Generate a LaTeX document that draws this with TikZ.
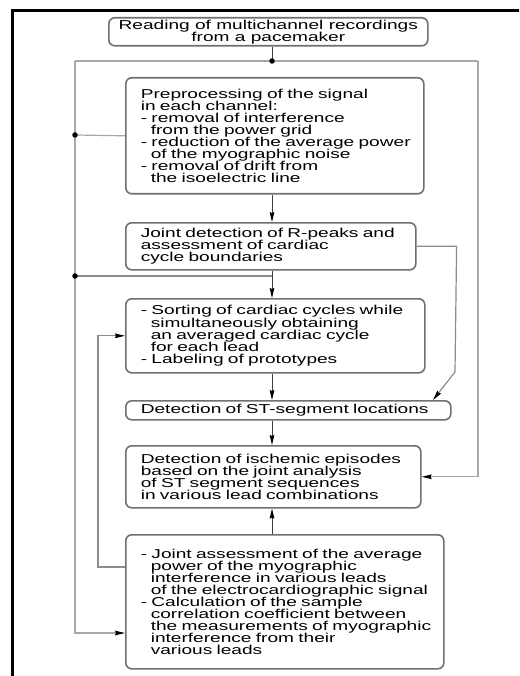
\documentclass[tikz,border=0pt]{standalone}
\usepackage{fontspec}
\newfontfamily\diagfont[FakeStretch=1.48]{Liberation Sans}
\usetikzlibrary{arrows.meta}
\definecolor{boxgray}{HTML}{707070}
\definecolor{busgray}{HTML}{A8A8A8}
\definecolor{linegray}{HTML}{8C8C8C}
\newcommand\dl[1]{\mbox{#1}}
\newcommand\ind{\hspace*{10pt}}
\begin{document}
\begin{tikzpicture}[x=1pt,y=-1pt,
  box/.style={draw=boxgray, line width=1.6pt, rounded corners=6pt, anchor=north west,
    inner xsep=15pt, inner ysep=0pt, align=left,
    font=\diagfont\fontsize{12.9}{12.1}\selectfont},
  tip/.style={-{Stealth[length=10pt,width=4.6pt,inset=1pt,color=black,fill=black]}},
  arr/.style={draw=black!75, line width=0.9pt, tip},
  bus/.style={draw=busgray, line width=1.2pt},
  fb/.style={draw=linegray, line width=1.2pt},
  dot/.style={circle, fill=black, draw=none, inner sep=0pt, minimum size=5.5pt}]
\useasboundingbox (0,0) rectangle (519,676);
\fill[white] (0,0) rectangle (519,676);
\draw[black, line width=3pt] (12.5,676) -- (12.5,10.5) -- (519,10.5);

\node[box, align=center, inner xsep=4pt, minimum width=319pt, minimum height=28pt] (n1) at (108,17)
  {Reading of multichannel recordings\\from a pacemaker};
\node[box, text width=268pt, minimum height=116pt] (n2) at (125,77)
  {\dl{Preprocessing of the signal}\\
   \dl{in each channel:}\\
   \dl{- removal of interference}\\
   \dl{\ind from the power grid}\\
   \dl{- reduction of the average power}\\
   \dl{\ind of the myographic noise}\\
   \dl{- removal of drift from}\\
   \dl{\ind the isoelectric line}};
\node[box, text width=260pt, minimum height=47pt] (n3) at (125,222)
  {\dl{Joint detection of R-peaks and}\\
   \dl{assessment of cardiac}\\
   \dl{cycle boundaries}};
\node[box, text width=269pt, minimum height=74pt] (n4) at (125,298)
  {\dl{- Sorting of cardiac cycles while}\\
   \dl{\ind simultaneously obtaining}\\
   \dl{\ind an averaged cardiac cycle}\\
   \dl{\ind for each lead}\\
   \dl{- Labeling of prototypes}};
\node[box, text width=295pt, minimum height=19pt] (n5) at (125,400)
  {\dl{Detection of ST-segment locations}};
\node[box, text width=265pt, minimum height=62pt] (n6) at (125,445)
  {\dl{Detection of ischemic episodes}\\
   \dl{based on the joint analysis}\\
   \dl{of ST segment sequences}\\
   \dl{in various lead combinations}};
\node[box, text width=288pt, minimum height=134pt] (n7) at (125,534)
  {\dl{- Joint assessment of the average}\\
   \dl{\ind power of the myographic}\\
   \dl{\ind interference in various leads}\\
   \dl{\ind of the electrocardiographic signal}\\
   \dl{- Calculation of the sample}\\
   \dl{\ind correlation coefficient between}\\
   \dl{\ind the measurements of myographic}\\
   \dl{\ind interference from their}\\
   \dl{\ind various leads}};

\coordinate (sp) at (272,0);
\coordinate (x98) at (98,0);
\coordinate (x433) at (433,0);
\coordinate (y567) at (0,567);
\coordinate (y633) at (0,633);
\coordinate (bl) at (75,61);
\coordinate (br) at (478,61);
\coordinate (j1) at (272,276);
\coordinate (d1) at (272,61);
\coordinate (d2) at (75,135);
\coordinate (d3) at (75,276);

\draw[bus] (bl) -- (br);
\draw[draw=black!75, line width=0.9pt] (n1.south -| sp) -- (d1);
\draw[bus] (n2.west) -- (d2);
\draw[fb] (j1) -- (d3);
\draw[bus, tip] (bl) |- (n7.west |- y633);
\draw[bus, tip] (br) |- (n6.east);
\draw[fb, tip] (n3.east) -- ++(40,0) -- (455,372) -- (x433 |- n5.north);
\draw[fb, tip] (n7.west |- y567) -| (x98 |- n4.west) -- (n4.west);

\draw[arr] (n2.south -| sp) -- (n3.north -| sp);
\draw[arr] (n3.south -| sp) -- (n4.north -| sp);
\draw[arr] (n4.south -| sp) -- (n5.north -| sp);
\draw[arr] (n5.south -| sp) -- (n6.north -| sp);
\draw[arr] (n7.north -| sp) -- (n6.south -| sp);

\node[dot] (p1) at (d1) {};
\node[dot] (p2) at (d2) {};
\node[dot] (p3) at (d3) {};
\end{tikzpicture}
\end{document}
